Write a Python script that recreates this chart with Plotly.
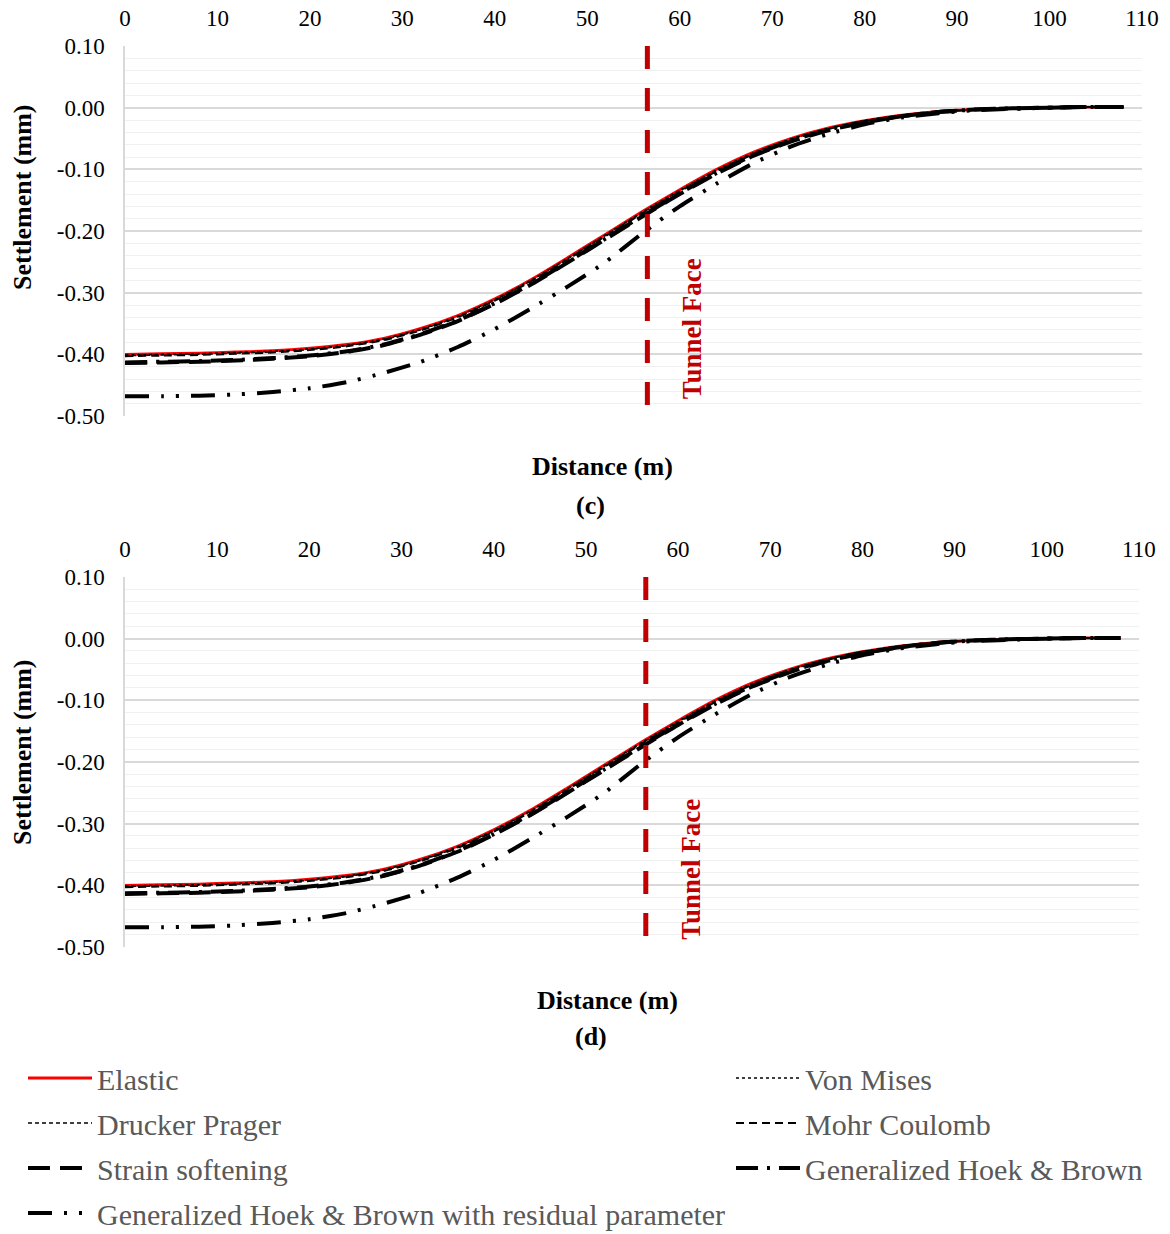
import plotly.graph_objects as go

# ---------------- data ----------------
distance = [0, 4, 8, 12, 16, 20, 24, 28, 32, 36, 40, 44, 48, 52, 56, 60,
            64, 68, 72, 76, 80, 84, 88, 92, 96, 100, 104, 108]

elastic = [-0.400, -0.399, -0.398, -0.396, -0.394, -0.390, -0.384, -0.374, -0.358, -0.337,
           -0.310, -0.278, -0.242, -0.205, -0.168, -0.133, -0.100, -0.072, -0.050, -0.033,
           -0.021, -0.012, -0.006, -0.003, -0.001, 0.000, 0.001, 0.001]
von_mises = [-0.401, -0.400, -0.399, -0.397, -0.395, -0.391, -0.385, -0.375, -0.359, -0.338,
             -0.311, -0.279, -0.243, -0.206, -0.169, -0.134, -0.101, -0.073, -0.051, -0.034,
             -0.021, -0.012, -0.006, -0.003, -0.001, 0.000, 0.001, 0.001]
drucker_prager = [-0.402, -0.401, -0.400, -0.398, -0.396, -0.392, -0.386, -0.376, -0.360, -0.339,
                  -0.312, -0.280, -0.244, -0.207, -0.170, -0.135, -0.102, -0.074, -0.051, -0.034,
                  -0.022, -0.013, -0.006, -0.003, -0.001, 0.000, 0.001, 0.001]
mohr_coulomb = [-0.403, -0.402, -0.401, -0.399, -0.397, -0.393, -0.387, -0.377, -0.361, -0.340,
                -0.313, -0.281, -0.245, -0.208, -0.171, -0.136, -0.103, -0.075, -0.052, -0.035,
                -0.022, -0.013, -0.007, -0.003, -0.001, 0.000, 0.001, 0.001]
strain_softening = [-0.414, -0.413, -0.412, -0.410, -0.407, -0.403, -0.396, -0.385, -0.368, -0.346,
                    -0.318, -0.286, -0.250, -0.213, -0.176, -0.140, -0.107, -0.078, -0.055, -0.037,
                    -0.024, -0.014, -0.007, -0.003, -0.001, 0.000, 0.001, 0.001]
gen_hoek_brown = [-0.413, -0.412, -0.411, -0.409, -0.406, -0.402, -0.395, -0.384, -0.367, -0.345,
                  -0.317, -0.285, -0.249, -0.212, -0.175, -0.139, -0.106, -0.077, -0.054, -0.036,
                  -0.023, -0.014, -0.007, -0.003, -0.001, 0.000, 0.001, 0.001]
gen_hoek_brown_res = [-0.468, -0.468, -0.467, -0.465, -0.461, -0.455, -0.445, -0.430, -0.412, -0.388,
                      -0.359, -0.325, -0.289, -0.250, -0.203, -0.160, -0.123, -0.090, -0.063, -0.043,
                      -0.027, -0.016, -0.009, -0.004, -0.002, 0.000, 0.001, 0.001]

series_names = ["Elastic", "Von Mises", "Drucker Prager", "Mohr Coulomb", "Strain softening",
                "Generalized Hoek & Brown", "Generalized Hoek & Brown with residual parameter"]
series_values = [elastic, von_mises, drucker_prager, mohr_coulomb, strain_softening,
                 gen_hoek_brown, gen_hoek_brown_res]
legend_column = ["legend", "legend2", "legend", "legend2", "legend", "legend2", "legend"]

x_ticks = [0, 10, 20, 30, 40, 50, 60, 70, 80, 90, 100, 110]
y_tick_vals = [0.10, 0.00, -0.10, -0.20, -0.30, -0.40, -0.50]
y_tick_text = ["0.10", "0.00", "-0.10", "-0.20", "-0.30", "-0.40", "-0.50"]
tunnel_face_x = 56.5
panel_labels = ["(c)", "(d)"]

# ---------------- styles ----------------
styles = [
    dict(color="#ff0000", width=2.8, dash="solid"),
    dict(color="#000000", width=1.5, dash="dot"),
    dict(color="#000000", width=1.5, dash="4px,3px"),
    dict(color="#000000", width=2, dash="8px,5px"),
    dict(color="#000000", width=4, dash="22px,10px"),
    dict(color="#000000", width=4, dash="22px,9px,3px,9px"),
    dict(color="#000000", width=4, dash="24px,12px,3px,12px,3px,12px"),
]

SERIF = "Liberation Serif"
fig = go.Figure()

for p in range(2):
    xa = "x" if p == 0 else "x2"
    ya = "y" if p == 0 else "y2"
    for name, vals, st, lg in zip(series_names, series_values, styles, legend_column):
        fig.add_trace(go.Scatter(
            x=distance, y=vals, name=name, mode="lines",
            line=dict(color=st["color"], width=st["width"], dash=st["dash"], shape="spline", smoothing=0.6),
            xaxis=xa, yaxis=ya, legendgroup=name, showlegend=(p == 0), legend=lg,
        ))

tick_font = dict(family=SERIF, size=23, color="#000000")
common_x = dict(range=[0, 110], tickvals=x_ticks, side="top", showgrid=False, showline=False,
                zeroline=False, ticks="", tickfont=tick_font, ticklabelstandoff=14)
common_y = dict(range=[-0.5, 0.1], tickvals=y_tick_vals, ticktext=y_tick_text, showgrid=True,
                gridcolor="#d9d9d9", gridwidth=1.5, zeroline=False, showline=True,
                linecolor="#d9d9d9", linewidth=1.5, ticks="", tickfont=tick_font,
                ticklabelstandoff=14,
                minor=dict(dtick=0.02, tick0=0, showgrid=True, gridcolor="#f0f0f0", gridwidth=1))
zero_axis = dict(range=[0, 110], anchor="free", side="bottom", showgrid=False, zeroline=False,
                 showline=True, linecolor="#bfbfbf", linewidth=1.5, showticklabels=False,
                 ticks="outside", tickvals=x_ticks, ticklen=6, tickcolor="#bfbfbf", tickwidth=1.5,
                 minor=dict(dtick=2, tick0=0, ticks="outside", ticklen=4, tickcolor="#bfbfbf",
                            tickwidth=1.2, showgrid=False))

legend_common = dict(orientation="v", yanchor="top", xanchor="left", xref="container", yref="container",
                     y=1 - 1052 / 1234, itemwidth=64, traceorder="grouped", tracegroupgap=3,
                     font=dict(family=SERIF, size=30, color="#595959"), bgcolor="rgba(0,0,0,0)")

fig.update_layout(
    width=1170, height=1234,
    margin=dict(l=125, r=28, t=46, b=287, autoexpand=False),
    paper_bgcolor="white", plot_bgcolor="white",
    xaxis=dict(domain=[0, 1], anchor="y", **common_x),
    yaxis=dict(domain=[0.5893, 1], anchor="x", **common_y),
    xaxis2=dict(domain=[0, 0.997], anchor="y2", **common_x),
    yaxis2=dict(domain=[0, 0.4107], anchor="x2", **common_y),
    xaxis3=dict(overlaying="x", position=0.9312, domain=[0, 1], **zero_axis),
    xaxis4=dict(overlaying="x2", position=0.3418, domain=[0, 0.997], **zero_axis),
    legend=dict(x=23 / 1170, **legend_common),
    legend2=dict(x=731 / 1170, **legend_common),
    showlegend=True,
)

# tunnel face lines and labels
for p, (ya, ymid) in enumerate([("y", -0.358), ("y2", -0.373)]):
    xa = "x" if p == 0 else "x2"
    fig.add_shape(type="line", xref=xa, yref=ya, x0=tunnel_face_x, x1=tunnel_face_x,
                  y0=0.1, y1=-0.487, line=dict(color="#c00000", width=5, dash="23px,19px"))
    fig.add_annotation(xref=xa, yref=ya, x=61.4, y=ymid, text="<b>Tunnel Face</b>", textangle=-90,
                       xanchor="center", yanchor="middle",
                       showarrow=False, font=dict(family=SERIF, size=27, color="#c00000"))

title_font = dict(family=SERIF, size=26, color="#000000")
ann = dict(xref="paper", yref="paper", showarrow=False, font=title_font, xanchor="center", yanchor="middle")
# axis titles and panel labels
fig.add_annotation(x=0.470, y=(947 - 466) / 901, text="<b>Distance (m)</b>", **ann)
fig.add_annotation(x=0.4582, y=(947 - 505) / 901, text="<b>" + panel_labels[0] + "</b>", **ann)
fig.add_annotation(x=0.474, y=(947 - 1000) / 901, text="<b>Distance (m)</b>", **ann)
fig.add_annotation(x=0.4582, y=(947 - 1036) / 901, text="<b>" + panel_labels[1] + "</b>", **ann)
fig.add_annotation(x=(22 - 125) / 1017, y=(947 - 197) / 901, text="<b>Settlement (mm)</b>",
                   textangle=-90, **ann)
fig.add_annotation(x=(22 - 125) / 1017, y=(947 - 752) / 901, text="<b>Settlement (mm)</b>",
                   textangle=-90, **ann)

fig.write_html("out.html")
